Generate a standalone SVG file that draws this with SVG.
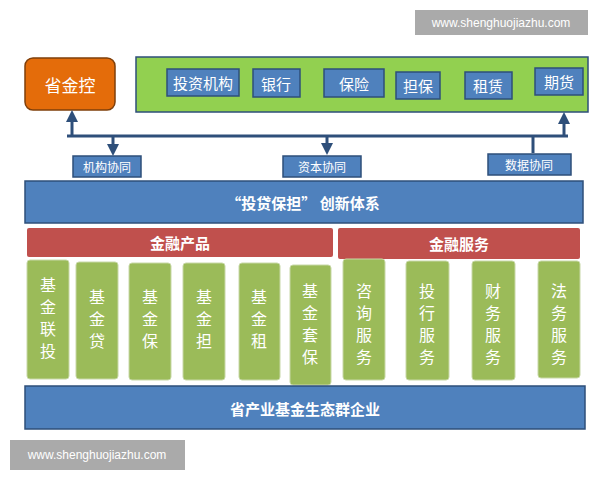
<svg xmlns="http://www.w3.org/2000/svg" width="600" height="480" viewBox="0 0 600 480">
<style>
text{font-family:"Noto Sans CJK SC","Liberation Sans",sans-serif;}
.bl{fill:#4f81bd;stroke:#2e4f7a;stroke-width:1.5}
.lt{fill:#fff;font-size:15px;text-anchor:middle;dominant-baseline:central}
.sm{fill:#fff;font-size:12px;text-anchor:middle;dominant-baseline:central}
.bt{fill:#fff;font-size:15px;font-weight:bold;text-anchor:middle;dominant-baseline:central}
.gc{fill:#9bbb59;stroke:#c8d8a8;stroke-width:1}
.vt{fill:#fff;font-size:16px;text-anchor:middle}
.rd{fill:#c0504d}
.ln{stroke:#2e4f7a;stroke-width:3;fill:none}
.wm{fill:#fff;font-size:12px;font-family:"Liberation Sans",sans-serif}
</style>
<defs><marker id="ah" markerWidth="4" markerHeight="4" refX="2" refY="2" orient="auto"><path d="M0,0L4,2L0,4z" fill="#2e4f7a"/></marker></defs>
<rect width="600" height="480" fill="#fff"/>
<g id="watermark1"><rect x="415" y="10" width="173" height="25" fill="#aaa"/><text class="wm" x="501" y="27" text-anchor="middle">www.shenghuojiazhu.com</text></g>
<g id="shengjinkong"><rect x="25" y="58" width="90" height="52" rx="8" fill="#e46c0a" stroke="#7f3f0a" stroke-width="1.5"/><text x="70" y="84" fill="#fff" font-size="17" text-anchor="middle" dominant-baseline="central">省金控</text></g>
<g id="institutions"><rect x="136" y="57" width="452" height="55" fill="#92d050" stroke="#2e4f7a" stroke-width="1.5"/>
<rect class="bl" x="167" y="69" width="72" height="27"/><text class="lt" x="203" y="82">投资机构</text>
<rect class="bl" x="253" y="69" width="47" height="28"/><text class="lt" x="276" y="83">银行</text>
<rect class="bl" x="324" y="69" width="60" height="28"/><text class="lt" x="354" y="83">保险</text>
<rect class="bl" x="396" y="72" width="44" height="27"/><text class="lt" x="418" y="85">担保</text>
<rect class="bl" x="465" y="72" width="47" height="27"/><text class="lt" x="488" y="85">租赁</text>
<rect class="bl" x="535" y="68" width="48" height="27"/><text class="lt" x="559" y="81">期货</text></g>
<g id="connectors">
<path class="ln" d="M67,136H568"/>
<path class="ln" d="M72,136V116" marker-end="url(#ah)"/>
<path class="ln" d="M564,136V118" marker-end="url(#ah)"/>
<path class="ln" d="M113,136V150" marker-end="url(#ah)"/>
<path class="ln" d="M327,136V149" marker-end="url(#ah)"/>
<path class="ln" d="M533,136V153"/>
</g>
<g id="labels">
<rect class="bl" x="73" y="156" width="68" height="21"/><text class="sm" x="107" y="166">机构协同</text>
<rect class="bl" x="283" y="156" width="78" height="21"/><text class="sm" x="322" y="166">资本协同</text>
<rect class="bl" x="488" y="154" width="83" height="21"/><text class="sm" x="529" y="164">数据协同</text>
</g>
<g id="innovation"><rect class="bl" x="25" y="181" width="558" height="42"/><text class="bt" x="303" y="202">“投贷保担”  创新体系</text></g>
<g id="products"><rect class="rd" x="27" y="228" width="306" height="29" rx="2"/><text class="bt" x="180" y="242">金融产品</text></g>
<g id="services"><rect class="rd" x="338" y="228" width="242" height="31" rx="2"/><text class="bt" x="459" y="243">金融服务</text></g>
<g id="columns">
<rect class="gc" x="27" y="260" width="42" height="119" rx="3"/><text class="vt"><tspan x="48" y="291">基</tspan><tspan x="48" y="313">金</tspan><tspan x="48" y="335">联</tspan><tspan x="48" y="357">投</tspan></text>
<rect class="gc" x="76" y="262" width="42" height="117" rx="3"/><text class="vt"><tspan x="97" y="303">基</tspan><tspan x="97" y="325">金</tspan><tspan x="97" y="347">贷</tspan></text>
<rect class="gc" x="129" y="263" width="42" height="117" rx="3"/><text class="vt"><tspan x="150" y="303">基</tspan><tspan x="150" y="325">金</tspan><tspan x="150" y="347">保</tspan></text>
<rect class="gc" x="183" y="263" width="42" height="117" rx="3"/><text class="vt"><tspan x="204" y="303">基</tspan><tspan x="204" y="325">金</tspan><tspan x="204" y="347">担</tspan></text>
<rect class="gc" x="239" y="263" width="41" height="117" rx="3"/><text class="vt"><tspan x="259" y="303">基</tspan><tspan x="259" y="325">金</tspan><tspan x="259" y="347">租</tspan></text>
<rect class="gc" x="290" y="265" width="41" height="120" rx="3"/><text class="vt"><tspan x="310" y="297">基</tspan><tspan x="310" y="319">金</tspan><tspan x="310" y="341">套</tspan><tspan x="310" y="363">保</tspan></text>
<rect class="gc" x="343" y="259" width="42" height="121" rx="3"/><text class="vt"><tspan x="364" y="297">咨</tspan><tspan x="364" y="319">询</tspan><tspan x="364" y="341">服</tspan><tspan x="364" y="363">务</tspan></text>
<rect class="gc" x="406" y="261" width="43" height="119" rx="3"/><text class="vt"><tspan x="427" y="297">投</tspan><tspan x="427" y="319">行</tspan><tspan x="427" y="341">服</tspan><tspan x="427" y="363">务</tspan></text>
<rect class="gc" x="472" y="261" width="43" height="119" rx="3"/><text class="vt"><tspan x="493" y="297">财</tspan><tspan x="493" y="319">务</tspan><tspan x="493" y="341">服</tspan><tspan x="493" y="363">务</tspan></text>
<rect class="gc" x="538" y="261" width="42" height="117" rx="3"/><text class="vt"><tspan x="559" y="297">法</tspan><tspan x="559" y="319">务</tspan><tspan x="559" y="341">服</tspan><tspan x="559" y="363">务</tspan></text>
</g>
<g id="enterprises"><rect class="bl" x="25" y="386" width="560" height="43"/><text class="bt" x="305" y="408">省产业基金生态群企业</text></g>
<g id="watermark2"><rect x="10" y="440" width="175" height="30" fill="#aaa"/><text class="wm" x="97" y="459" text-anchor="middle">www.shenghuojiazhu.com</text></g>
</svg>
